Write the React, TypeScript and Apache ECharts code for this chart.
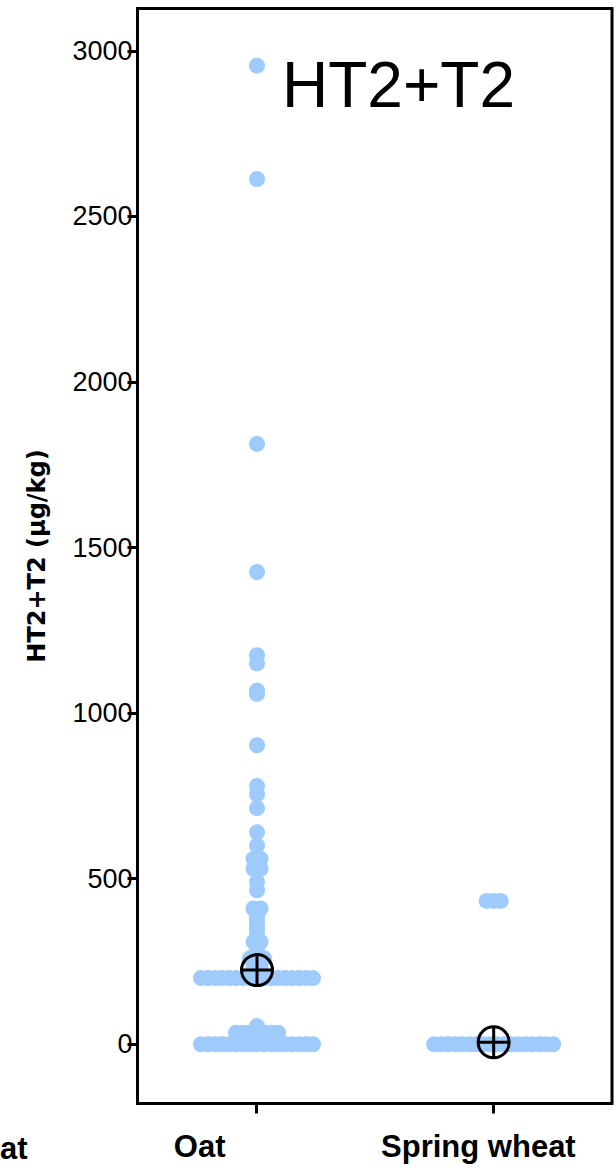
import React, { useEffect, useRef } from "react";
import * as echarts from "echarts";

// ---- data ----
const categories = ["Oat", "Spring wheat"];
const neighbourLabel = "at";
const chartTitle = "HT2+T2";
const yAxisTitle = "HT2+T2 (µg/kg)";
const yTicks = [0, 500, 1000, 1500, 2000, 2500, 3000];

// distinct measured values and how many samples share each value
const oatLevels = [0, 35, 55, 200, 230, 245, 260, 275, 290, 310, 330, 345, 360, 375, 390, 410, 465, 490, 530, 560, 600, 640, 713, 755, 780, 903, 1058, 1068, 1150, 1175, 1426, 1813, 2613, 2955];
const oatCounts = [17, 7, 1, 17, 2, 2, 3, 1, 1, 2, 1, 1, 1, 1, 1, 2, 1, 1, 2, 2, 1, 1, 1, 1, 1, 1, 1, 1, 1, 1, 1, 1, 1, 1];
const wheatLevels = [0, 433];
const wheatCounts = [18, 3];
const meanValues = [224, 6];

const levelsByCategory = [oatLevels, wheatLevels];
const countsByCategory = [oatCounts, wheatCounts];

const DOT_COLOR = "#9ecbfb";
const GRID = { left: 137.5, top: 8.5, width: 474.5, height: 1095 };
const X_MIN = 0.495;
const X_MAX = 2.5;
const Y_MIN = -178.8;
const Y_MAX = 3127.7;
const DOT_STEP_PX = 7;

function buildPoints(): number[][] {
  const pxPerUnit = GRID.width / (X_MAX - X_MIN);
  const step = DOT_STEP_PX / pxPerUnit;
  const pts: number[][] = [];
  levelsByCategory.forEach((levels, c) => {
    const counts = countsByCategory[c];
    levels.forEach((v, k) => {
      const n = counts[k];
      for (let i = 0; i < n; i++) {
        pts.push([c + 1 + (i - (n - 1) / 2) * step, v]);
      }
    });
  });
  return pts;
}

const MEAN_SYMBOL =
  "path://M0,-15A15,15 0 1,1 0,15A15,15 0 1,1 0,-15ZM0,-15L0,15M-15,0L15,0";

export default function App() {
  const ref = useRef<HTMLDivElement>(null);
  useEffect(() => {
    if (!ref.current) return;
    const chart = echarts.init(ref.current, undefined, { renderer: "svg" });
    const labelFont = {
      fontFamily: "'Liberation Sans', Arial, sans-serif",
      fontWeight: "bold" as const,
      fontSize: 31,
      color: "#000",
    };
    chart.setOption({
      animation: false,
      backgroundColor: "#fff",
      title: {
        text: chartTitle,
        left: 277,
        top: 48,
        textStyle: {
          fontFamily: "'Liberation Sans', Arial, sans-serif",
          fontWeight: "normal",
          fontSize: 64,
          color: "#000",
        },
      },
      grid: {
        ...GRID,
        show: true,
        borderColor: "#000",
        borderWidth: 3,
        backgroundColor: "transparent",
      },
      xAxis: [
        {
          type: "value",
          min: X_MIN,
          max: X_MAX,
          show: false,
        },
        {
          type: "category",
          data: categories,
          boundaryGap: true,
          position: "bottom",
          axisLine: { show: false },
          axisTick: {
            show: true,
            alignWithLabel: true,
            length: 10,
            lineStyle: { color: "#000", width: 3 },
          },
          axisLabel: {
            interval: 0,
            margin: 27,
            ...labelFont,
            formatter: (v: string) => (v === categories[0] ? "{a|" + v + "}" : "{b|" + v + "}"),
            rich: {
              a: { ...labelFont, padding: [0, 113, 0, 0] },
              b: { ...labelFont, padding: [0, 30, 0, 0] },
            },
          },
          splitLine: { show: false },
        },
      ],
      yAxis: {
        type: "value",
        min: Y_MIN,
        max: Y_MAX,
        name: yAxisTitle,
        nameLocation: "middle",
        nameGap: 89,
        nameTextStyle: {
          fontFamily: "'DejaVu Sans', Verdana, sans-serif",
          fontWeight: "bold",
          fontSize: 24,
          color: "#000",
        },
        axisLine: { show: false },
        axisTick: {
          show: true,
          length: 10,
          customValues: yTicks,
          lineStyle: { color: "#000", width: 3 },
        },
        axisLabel: {
          customValues: yTicks,
          margin: 5,
          formatter: (v: number) => String(v),
          fontFamily: "'Liberation Sans Narrow', 'Arial Narrow', 'Liberation Sans', sans-serif",
          fontSize: 27,
          color: "#000",
        },
        splitLine: { show: false },
      },
      graphic: [
        {
          type: "text",
          x: 0,
          y: 1148,
          style: {
            text: neighbourLabel,
            textAlign: "left",
            textVerticalAlign: "middle",
            font: "bold 31px 'Liberation Sans', Arial, sans-serif",
            fill: "#000",
          },
        },
      ],
      series: [
        {
          type: "scatter",
          xAxisIndex: 0,
          yAxisIndex: 0,
          symbol: "circle",
          symbolSize: 16,
          silent: true,
          itemStyle: { color: DOT_COLOR, opacity: 1 },
          data: buildPoints(),
        },
        {
          type: "scatter",
          xAxisIndex: 0,
          yAxisIndex: 0,
          symbol: MEAN_SYMBOL,
          symbolSize: 31,
          symbolKeepAspect: true,
          silent: true,
          itemStyle: { color: "rgba(0,0,0,0)", borderColor: "#000", borderWidth: 3, opacity: 1 },
          data: meanValues.map((m, i) => [i + 1, m]),
          z: 5,
        },
      ],
    });
    return () => chart.dispose();
  }, []);
  return (
    <div
      ref={ref}
      style={{ position: "absolute", left: 0, top: 0, width: 616, height: 1168 }}
    />
  );
}
